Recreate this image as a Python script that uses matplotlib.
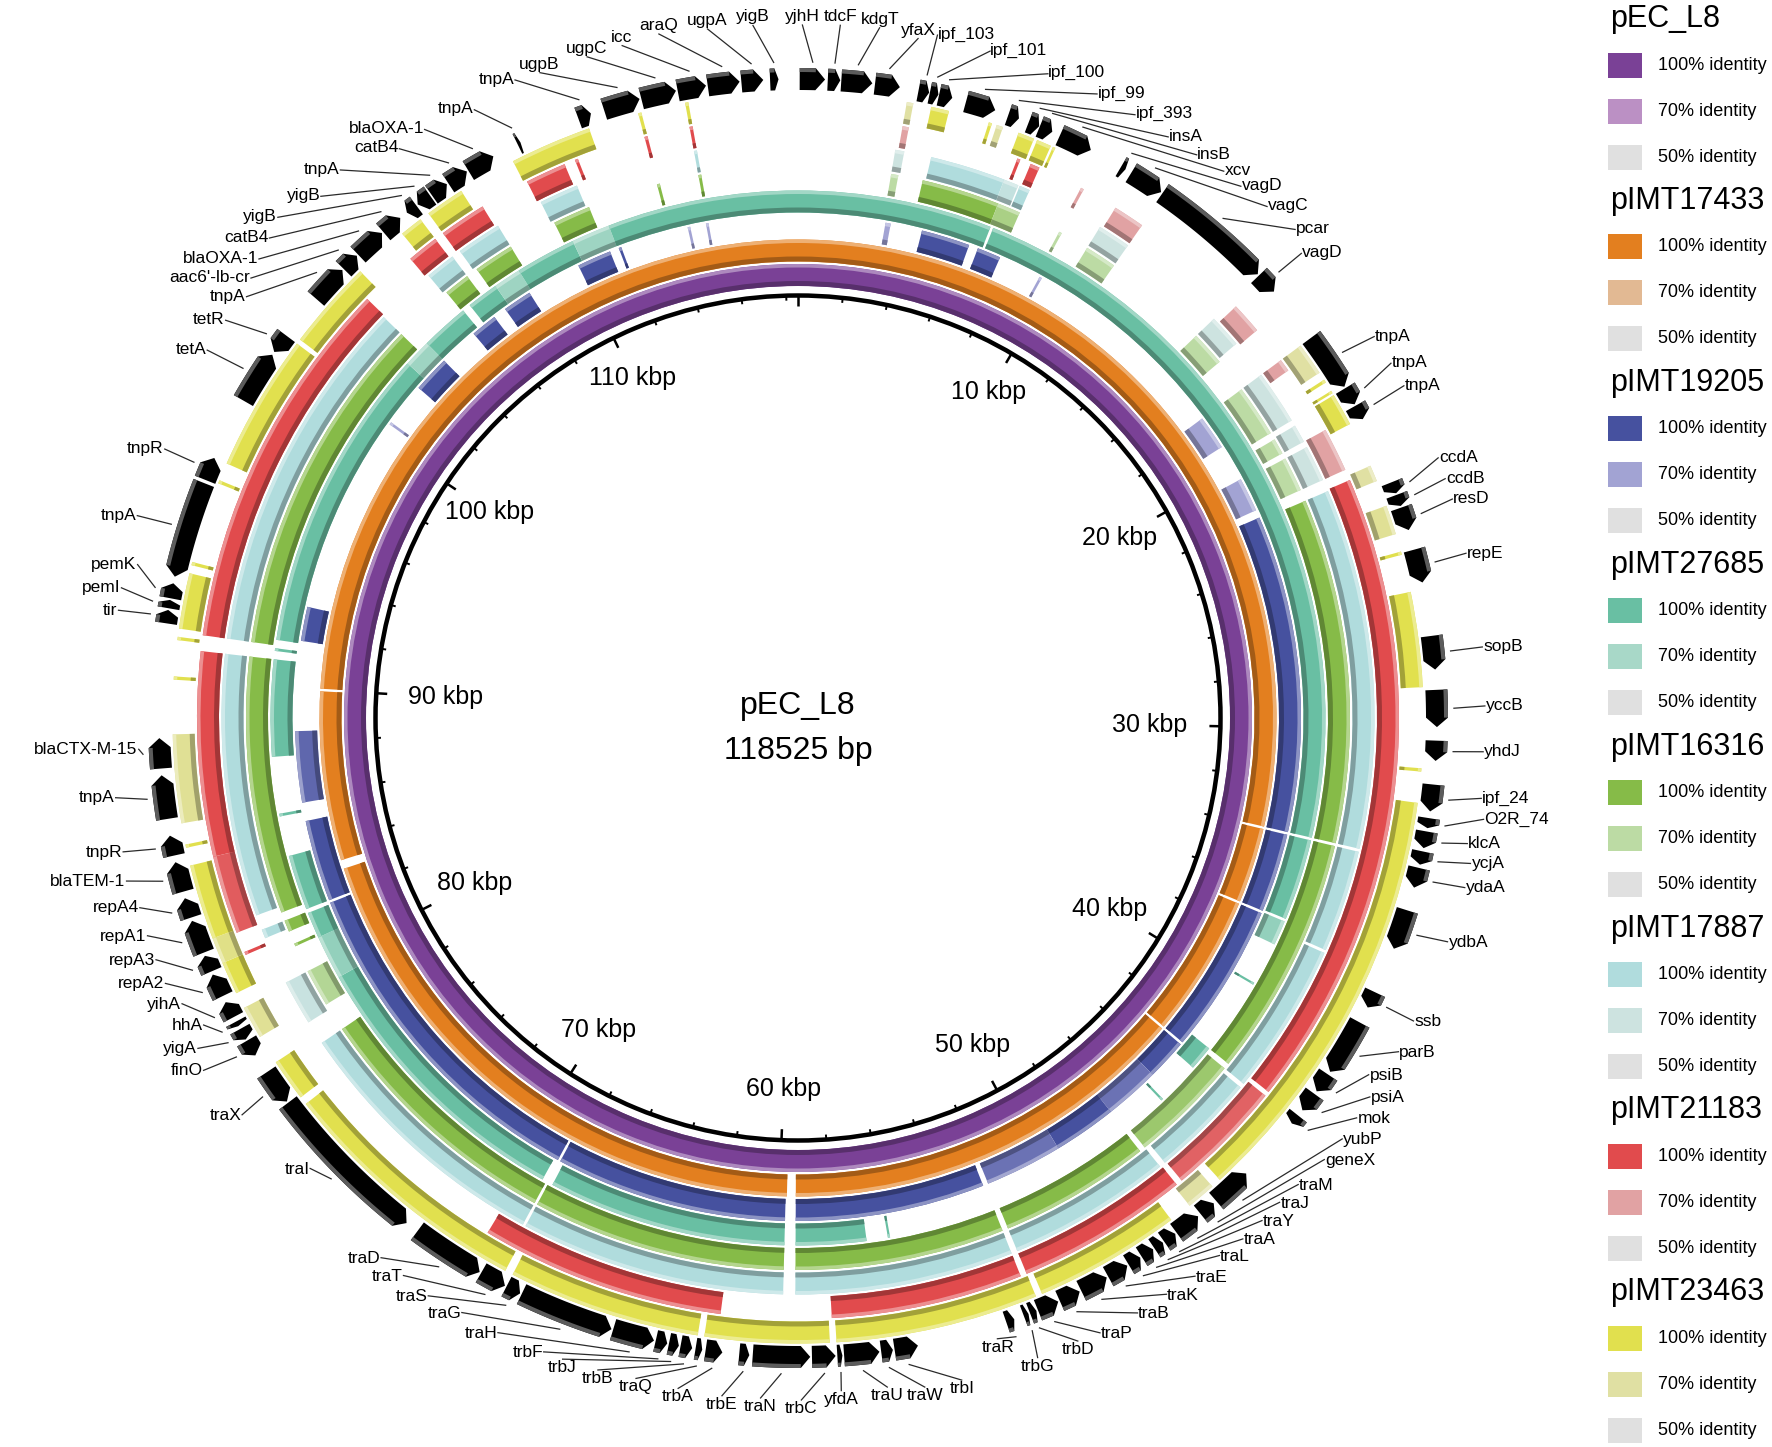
import numpy as np
import matplotlib
matplotlib.use("Agg")
import matplotlib.pyplot as plt
from matplotlib.patches import Rectangle
from matplotlib.colors import to_rgb

plt.rcParams['font.family'] = ['Liberation Sans', 'DejaVu Sans']

# ---------------- data ----------------
GENOME_BP = 118525
L = GENOME_BP / 1000.0  # kbp

ring_names = ['pEC_L8', 'pIMT17433', 'pIMT19205', 'pIMT27685',
              'pIMT16316', 'pIMT17887', 'pIMT21183', 'pIMT23463']
color_100 = ['#7a4196', '#e37f1f', '#46519f', '#69bfa3',
             '#86bb48', '#b0dcdd', '#e14b4d', '#e1e04e']
color_70 = ['#bb90c4', '#e2b993', '#a2a3d3', '#a8d8c8',
            '#bcdba4', '#cde3e0', '#e1a2a3', '#e0e0a3']
color_50 = '#e0e0e0'
identity_labels = ['100% identity', '70% identity', '50% identity']

# BLAST hit segments: (start_kbp, end_kbp, identity %)
seg_pEC_L8 = [(0.0, L, 100)]
seg_pIMT17433 = [
    (0.0, 33.95, 100), (34.05, 37.05, 100), (37.15, 42.85, 100), (42.95, 59.35, 100),
    (59.7, 82.85, 100), (83.2, 89.95, 100), (90.05, L, 100)]
seg_pIMT19205 = [
    (3.3, 3.5, 70), (4.7, 6.55, 100), (6.9, 7.8, 100), (9.45, 9.55, 70),
    (17.6, 18.9, 70), (20.3, 21.6, 70), (21.9, 33.95, 100), (34.05, 37.05, 100),
    (37.15, 42.85, 100), (42.95, 44.5, 100), (44.5, 46.6, 88), (46.6, 49.0, 100),
    (49.0, 51.95, 88), (52.15, 59.35, 100), (59.75, 68.55, 100), (68.65, 81.8, 100),
    (81.9, 85.0, 100), (85.7, 88.4, 92), (91.8, 93.1, 100), (100.65, 100.75, 70),
    (102.4, 103.8, 100), (105.3, 106.3, 100), (106.8, 107.9, 100), (110.0, 111.3, 100),
    (111.65, 111.75, 100), (114.35, 114.45, 70), (115.05, 115.15, 70)]
seg_pIMT27685 = [
    (0.0, 7.05, 100), (7.15, 33.95, 100), (34.05, 37.0, 100), (37.1, 38.0, 80),
    (39.55, 39.63, 100), (42.4, 43.3, 100), (44.85, 44.93, 100), (55.95, 56.03, 100),
    (56.8, 59.35, 100), (59.75, 68.4, 100), (68.8, 79.2, 100), (79.2, 80.8, 80),
    (80.8, 81.75, 100), (81.9, 83.9, 100), (85.35, 85.45, 100), (87.5, 91.0, 100),
    (91.3, 91.4, 100), (91.7, 102.8, 100), (102.8, 103.8, 75), (103.8, 105.55, 100),
    (105.85, 107.0, 100), (107.0, 108.0, 75), (108.0, 110.2, 100), (110.2, 111.6, 75),
    (111.6, L, 100)]
seg_pIMT16316 = [
    (3.2, 3.45, 70), (4.3, 7.0, 100), (7.0, 7.8, 80), (9.3, 9.4, 70), (10.4, 11.5, 70),
    (15.2, 16.4, 70), (17.6, 19.4, 70), (19.65, 20.2, 70), (20.4, 21.6, 70),
    (22.0, 33.95, 100), (34.05, 42.4, 100), (42.6, 46.45, 88), (46.65, 51.9, 100),
    (52.1, 59.35, 100), (59.75, 68.55, 100), (68.65, 77.6, 100), (78.6, 79.9, 75),
    (80.85, 80.95, 100), (81.4, 81.8, 100), (82.1, 91.0, 100), (91.5, 103.4, 100),
    (105.5, 106.4, 100), (106.8, 108.2, 100), (109.9, 111.2, 100), (113.65, 113.75, 100),
    (115.1, 115.2, 100)]
seg_pIMT17887 = [
    (3.2, 3.5, 70), (4.4, 6.9, 100), (6.9, 7.4, 80), (7.45, 7.8, 100), (10.4, 11.5, 70),
    (15.2, 16.3, 70), (17.6, 19.4, 70), (19.6, 20.2, 70), (20.4, 21.6, 70),
    (22.0, 33.95, 100), (34.05, 37.45, 100), (37.55, 42.6, 100), (42.75, 46.25, 100),
    (46.45, 51.9, 100), (52.1, 59.35, 100), (59.75, 68.55, 100), (68.65, 77.6, 100),
    (78.4, 79.9, 75), (81.5, 81.8, 100), (82.3, 91.0, 100), (91.5, 103.4, 100),
    (105.4, 106.4, 100), (106.7, 108.2, 100), (109.8, 111.1, 100), (115.1, 115.2, 100)]
seg_pIMT21183 = [
    (3.3, 3.5, 70), (7.05, 7.15, 100), (7.5, 7.8, 100), (9.25, 9.35, 70), (10.5, 11.5, 70),
    (15.4, 16.4, 70), (17.6, 18.0, 70), (20.2, 21.6, 70), (21.95, 42.3, 100),
    (42.45, 46.2, 92), (46.4, 51.9, 100), (52.1, 58.2, 100),
    (61.7, 69.5, 100), (81.25, 81.35, 100), (82.0, 84.5, 94), (84.5, 91.0, 100),
    (91.5, 103.45, 100), (105.3, 106.3, 100), (106.6, 108.1, 100), (109.7, 111.0, 100),
    (111.35, 111.45, 100), (113.65, 113.75, 100), (115.1, 115.2, 100)]
seg_pIMT23463 = [
    (3.3, 3.5, 70), (4.05, 4.6, 100), (5.85, 5.95, 100), (6.1, 6.3, 70), (6.8, 7.3, 100),
    (7.4, 7.85, 100), (7.92, 8.0, 100), (17.6, 18.6, 70), (18.85, 18.95, 100),
    (19.25, 19.33, 100), (19.4, 20.4, 100), (21.8, 22.3, 70), (23.1, 24.0, 75),
    (24.55, 24.65, 100), (25.8, 28.7, 100), (31.15, 31.25, 100), (32.2, 45.3, 100),
    (45.6, 46.5, 70), (47.2, 51.7, 100), (51.9, 58.1, 100), (58.3, 62.1, 100),
    (62.3, 68.2, 100), (68.45, 76.35, 100), (76.6, 77.9, 100), (78.8, 79.8, 75),
    (80.3, 81.3, 100), (81.3, 82.1, 80), (82.1, 84.4, 100), (84.95, 85.05, 100),
    (85.7, 88.4, 75), (90.05, 90.15, 100), (91.25, 91.35, 100), (91.6, 93.3, 100),
    (93.55, 93.65, 100), (96.15, 96.25, 100), (96.8, 101.0, 100), (101.15, 103.9, 100),
    (105.6, 106.3, 100), (106.6, 107.8, 100), (109.6, 112.1, 100), (113.65, 113.75, 100),
    (115.1, 115.2, 100)]
ring_segments = [seg_pEC_L8, seg_pIMT17433, seg_pIMT19205, seg_pIMT27685,
                 seg_pIMT16316, seg_pIMT17887, seg_pIMT21183, seg_pIMT23463]

# annotated genes: (name, start_kbp, end_kbp, strand)
genes = [
    ('yjhH', 0.05, 0.80, 1), ('tdcF', 0.88, 1.25, 1), ('kdgT', 1.28, 2.20, 1),
    ('yfaX', 2.28, 3.02, 1), ('ipf_103', 3.58, 3.90, 1), ('ipf_101', 3.92, 4.18, 1),
    ('ipf_100', 4.20, 4.60, 1), ('ipf_99', 5.02, 5.92, 1), ('ipf_393', 6.33, 6.66, 1),
    ('insA', 6.97, 7.30, 1), ('insB', 7.32, 7.72, 1), ('xcv', 7.97, 8.98, 1),
    ('vagD', 10.0, 10.15, 1), ('vagC', 10.35, 11.40, 1), ('pcar', 11.45, 15.15, 1),
    ('vagD', 15.20, 15.85, 1), ('tnpA', 17.6, 19.35, 1), ('tnpA', 19.4, 19.95, 1),
    ('tnpA', 20.0, 20.45, 1), ('ccdA', 22.5, 22.85, 1), ('ccdB', 22.9, 23.25, 1),
    ('resD', 23.3, 24.0, 1), ('repE', 24.6, 25.6, 1), ('sopB', 27.2, 28.2, 1),
    ('yccB', 28.8, 29.9, 1), ('yhdJ', 30.3, 30.9, 1), ('ipf_24', 31.6, 32.4, 1),
    ('O2R_74', 32.6, 32.9, 1), ('klcA', 33.0, 33.5, 1), ('ycjA', 33.6, 34.0, 1),
    ('ydaA', 34.1, 34.7, 1), ('ydbA', 35.4, 36.6, 1), ('ssb', 38.0, 38.5, 1),
    ('parB', 39.0, 40.7, 1), ('psiB', 40.8, 41.4, 1), ('psiA', 41.5, 42.1, 1),
    ('mok', 42.3, 42.6, 1), ('yubP', 44.6, 45.8, -1), ('geneX', 45.9, 46.4, -1),
    ('traM', 46.5, 47.3, -1), ('traJ', 47.35, 47.75, -1), ('traY', 47.8, 48.1, -1),
    ('traA', 48.15, 48.55, -1), ('traL', 48.6, 49.0, -1), ('traE', 49.05, 49.7, -1),
    ('traK', 49.75, 50.6, -1), ('traB', 50.65, 51.3, -1), ('traP', 51.35, 52.0, -1),
    ('trbD', 52.05, 52.25, -1), ('trbG', 52.3, 52.45, -1), ('traR', 52.75, 53.0, -1),
    ('trbI', 55.7, 56.4, -1), ('traW', 56.45, 56.8, -1), ('traU', 56.85, 57.9, -1),
    ('yfdA', 57.95, 58.1, -1), ('trbC', 58.15, 58.85, -1), ('traN', 58.9, 60.6, -1),
    ('trbE', 60.7, 61.0, -1), ('trbA', 61.5, 62.0, -1), ('traQ', 62.1, 62.3, -1),
    ('trbB', 62.4, 62.75, -1), ('trbJ', 62.8, 63.1, -1), ('trbF', 63.15, 63.5, -1),
    ('traH', 63.55, 64.8, -1), ('traG', 64.85, 67.7, -1), ('traS', 67.75, 68.2, -1),
    ('traT', 68.25, 69.05, -1), ('traD', 69.1, 71.3, -1), ('traI', 71.7, 76.7, -1),
    ('traX', 76.75, 77.8, -1), ('finO', 78.4, 78.9, -1), ('yigA', 78.95, 79.3, -1),
    ('hhA', 79.4, 79.55, -1), ('yihA', 79.7, 80.2, 1), ('repA2', 80.4, 81.1, 1),
    ('repA3', 81.2, 81.7, 1), ('repA1', 81.8, 82.8, 1), ('repA4', 82.9, 83.5, 1),
    ('blaTEM-1', 83.7, 84.6, 1), ('tnpR', 84.8, 85.4, 1), ('tnpA', 85.9, 87.2, 1),
    ('blaCTX-M-15', 87.4, 88.3, 1), ('tir', 91.7, 92.1, 1), ('pemI', 92.15, 92.4, 1),
    ('pemK', 92.45, 92.9, 1), ('tnpA', 93.1, 96.0, -1), ('tnpR', 96.1, 96.8, 1),
    ('tetA', 98.7, 100.3, 1), ('tetR', 100.4, 101.0, -1), ('tnpA', 102.4, 103.55, 1),
    ("aac6'-lb-cr", 103.6, 104.15, 1), ('blaOXA-1', 104.2, 105.15, 1),
    ('catB4', 105.2, 105.85, 1), ('yigB', 106.1, 106.45, -1), ('yigB', 106.5, 106.95, -1),
    ('tnpA', 107.0, 107.55, 1), ('catB4', 107.6, 108.25, 1), ('blaOXA-1', 108.3, 109.15, 1),
    ('tnpA', 109.95, 110.05, 1), ('tnpA', 111.9, 112.3, 1), ('ugpB', 112.7, 113.8, 1),
    ('ugpC', 113.85, 114.9, 1), ('icc', 114.95, 115.8, 1), ('araQ', 115.85, 116.8, 1),
    ('ugpA', 116.85, 117.5, 1), ('yigB', 117.7, 117.95, 1)]

# label layout (angular position in kbp, radius in px) for each gene label
label_kbp = [
    0.12, 1.15, 2.22, 3.3, 3.8, 5.29, 6.98, 8.43, 9.61, 10.7, 11.62, 12.48, 13.1, 14.0,
    14.98, 15.57, 18.6, 19.46, 20.17, 22.35, 22.95, 23.54, 25.07, 27.68, 29.3, 30.56,
    31.84, 32.4, 33.13, 33.65, 34.33, 35.89, 38.26, 39.2, 40.17, 40.67, 41.35, 42.05,
    42.8, 43.79, 44.5, 45.2, 45.93, 46.72, 47.6, 48.53, 49.48, 50.65, 51.3, 52.5, 53.4,
    54.69, 55.73, 56.76, 58.05, 59.17, 60.3, 61.37, 62.6, 63.8, 64.88, 65.9, 66.46,
    67.83, 68.97, 70.0, 70.88, 71.67, 74.83, 77.2, 78.8, 79.4, 79.9, 80.7, 81.4, 82.1,
    82.8, 83.6, 84.4, 85.2, 86.7, 88.0, 91.86, 92.48, 93.2, 94.5, 96.47, 99.4, 100.35,
    101.2, 101.67, 102.2, 102.8, 103.35, 104.55, 105.4, 107.0, 107.86, 109.3, 110.65,
    111.35, 112.7, 113.7, 114.74, 116.06, 117.3]
label_rad = [
    693, 694, 695, 690, 697, 694, 691, 692, 691, 689, 690, 693, 692, 694,
    697, 685, 691, 691, 691, 691, 690, 690, 688, 688, 687, 686,
    688, 693, 681, 688, 688, 687, 686, 687, 673, 686, 687, 688,
    687, 684, 683, 684, 685, 683, 685, 684, 685, 685, 683, 683, 652,
    682, 681, 675, 674, 682, 681, 682, 681, 680, 682, 683, 683,
    684, 683, 686, 683, 682, 664, 683, 691, 685, 669, 679, 686, 686,
    686, 685, 691, 688, 687, 660, 688, 689, 678, 691, 688, 696, 697,
    694, 702, 708, 714, 722, 707, 714, 695, 697, 689, 698,
    695, 694, 695, 698, 695, 694]

tick_major = list(range(0, 111, 10))
tick_minor = [k for k in range(2, 119, 2) if k % 10 != 0]

# ---------------- layout ----------------
W, H = 1772, 1447
CX, CY = 798, 718
RMAX = 800
ring_radii = [(432, 454), (456.5, 478.5), (481, 503), (505.5, 527.5),
              (530, 552), (554.5, 576.5), (579, 601), (603.5, 625.5)]
gene_r = (628, 650)
backbone_r = 422.5


def th(k):
    return np.asarray(k, dtype=float) * 2 * np.pi / L


def mix(c1, c2, f):
    a, b = np.array(to_rgb(c1)), np.array(to_rgb(c2))
    return tuple(a + (b - a) * f)


def identity_color(lev, c100, c70):
    if lev >= 100:
        return to_rgb(c100)
    if lev >= 70:
        return mix(c70, c100, (lev - 70) / 30.0)
    return mix(color_50, c70, max(0.0, (lev - 50) / 20.0))


def darker(c, f=0.72):
    r, g, b = to_rgb(c)
    return (r * f, g * f, b * f)


def lighter(c, f=0.38):
    return mix(c, '#ffffff', f)


fig = plt.figure(figsize=(W / 100, H / 100), dpi=100)
ax = fig.add_axes([(CX - RMAX) / W, (H - CY - RMAX) / H, 2 * RMAX / W, 2 * RMAX / H],
                  projection='polar')
ax.set_theta_zero_location('N')
ax.set_theta_direction(-1)
ax.set_axis_off()

# rings
for segs, (r0, r1), c100, c70 in zip(ring_segments, ring_radii, color_100, color_70):
    for s, e, lev in segs:
        col = identity_color(lev, c100, c70)
        t0, t1 = th(s), th(e)
        w = t1 - t0
        ax.bar(t0, r1 - r0, width=w, bottom=r0, align='edge', color=col, linewidth=0)
        ax.bar(t0, 5, width=w, bottom=r0, align='edge', color=darker(col), linewidth=0)
        ax.bar(t0, 3.5, width=w, bottom=r1 - 3.5, align='edge', color=lighter(col), linewidth=0)

# backbone circle and ticks
ax.bar(0, 4.5, width=2 * np.pi, bottom=backbone_r - 2.25, align='edge', color='black', linewidth=0)
ax.vlines(th(tick_major), backbone_r - 11, backbone_r, color='black', linewidth=1.8)
ax.vlines(th(tick_minor), backbone_r - 5, backbone_r, color='black', linewidth=1.4)
for k in tick_major[1:]:
    a = th(k)
    rr = 371 - 19 * np.sin(a) ** 8 + 8 * max(0.0, np.cos(a))
    ax.text(a, rr, f'{k} kbp', ha='center', va='center', fontsize=18)

# genes
g0, g1 = gene_r
gm = 0.5 * (g0 + g1)
for name, s, e, strand in genes:
    head = min(0.28, 0.45 * (e - s))
    if strand >= 0:
        b0, b1 = s, e - head
        n = max(2, int((b1 - b0) * 25) + 2)
        ts = np.linspace(b0, b1, n)
        T = np.concatenate([ts, [e], ts[::-1]])
        R = np.concatenate([np.full(n, g1), [gm], np.full(n, g0)])
    else:
        b0, b1 = s + head, e
        n = max(2, int((b1 - b0) * 25) + 2)
        ts = np.linspace(b0, b1, n)
        T = np.concatenate([[s], ts, ts[::-1]])
        R = np.concatenate([[gm], np.full(n, g1), np.full(n, g0)])
    ax.fill(th(T), R, color='black', linewidth=0)
    Ts = np.concatenate([ts, ts[::-1]])
    Rs = np.concatenate([np.full(n, g1), np.full(n, g1 - 4)])
    ax.fill(th(Ts), Rs, color='#5c5c5c', linewidth=0)

# labels with leader lines
for (name, s, e, strand), lk, lr in zip(genes, label_kbp, label_rad):
    mid = 0.5 * (s + e)
    ax.plot([th(mid), th(lk)], [g1 + 6, lr], color='#2a2a2a', linewidth=0.9)
    deg = lk / L * 360
    if deg >= 337 or deg < 10.5:
        ha, va = 'center', 'bottom'
    elif deg < 155:
        ha, va = 'left', 'center'
    elif deg <= 201:
        ha, va = 'center', 'top'
    else:
        ha, va = 'right', 'center'
    ax.text(th(lk), lr + 1, name, ha=ha, va=va, fontsize=12.5)

ax.set_ylim(0, RMAX)

# overlay axes in pixel units for centre title and legend
oax = fig.add_axes([0, 0, 1, 1])
oax.set_xlim(0, W)
oax.set_ylim(H, 0)
oax.set_axis_off()
oax.text(CX, CY - 12, ring_names[0], ha='center', va='center', fontsize=23)
oax.text(CX, CY + 33, f'{GENOME_BP} bp', ha='center', va='center', fontsize=23)

for i, name in enumerate(ring_names):
    y0 = 19 + i * 181.9
    oax.text(1610, y0, name, ha='left', va='center', fontsize=22)
    for j, (lab, col) in enumerate(zip(identity_labels, [color_100[i], color_70[i], color_50])):
        yy = y0 + 46 * (j + 1)
        oax.add_patch(Rectangle((1608, yy - 12.5), 34, 25, facecolor=col, edgecolor='none'))
        oax.text(1658, yy, lab, ha='left', va='center', fontsize=13)

fig.savefig('out.png', dpi=100)
